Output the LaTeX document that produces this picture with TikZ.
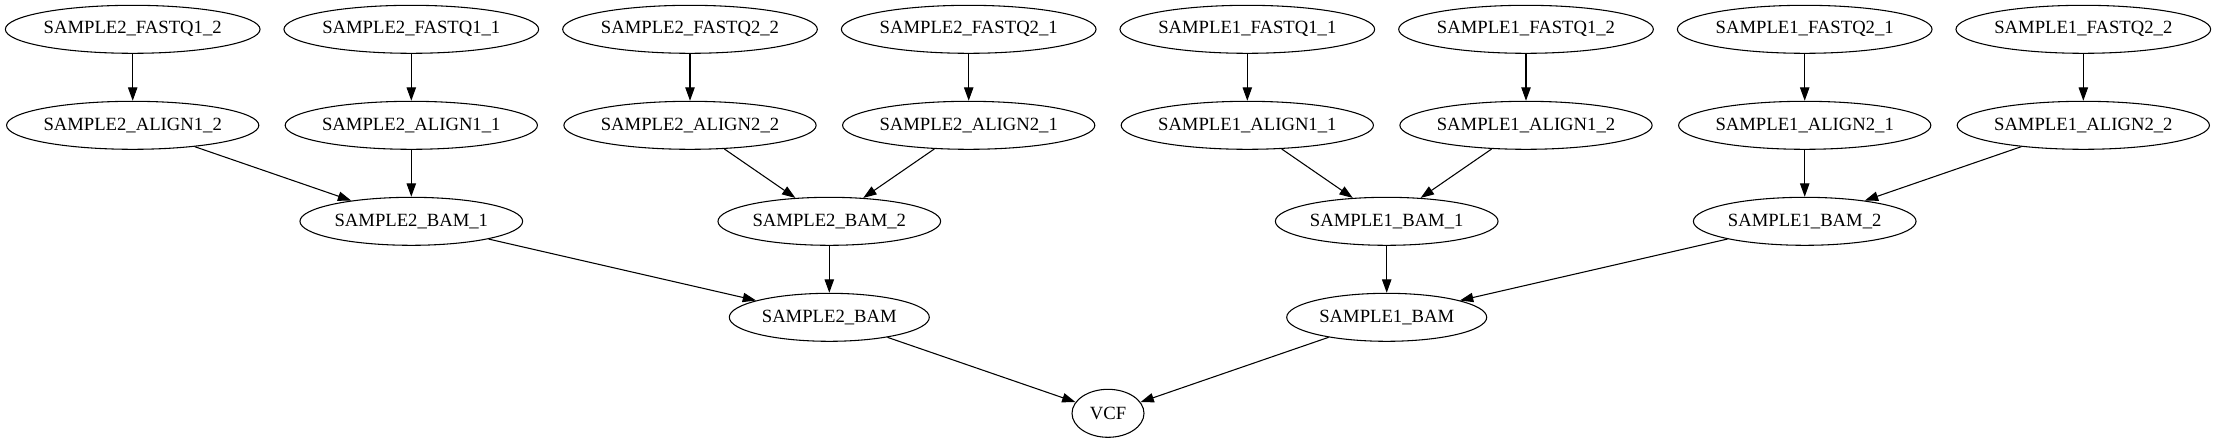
\documentclass[tikz,border=0pt]{standalone}
\usepackage{fontspec}
\setmainfont{Liberation Serif}
\usetikzlibrary{shapes.geometric,arrows.meta}
\begin{document}
\begin{tikzpicture}[x=0.75pt,y=-0.75pt,
  gnode/.style={ellipse,draw,line width=0.8pt,inner sep=0pt,minimum height=36pt,font=\fontsize{14}{16}\selectfont},
  fq/.style={gnode,minimum width=191pt},
  al/.style={gnode,minimum width=189pt},
  bamx/.style={gnode,minimum width=167pt},
  bam/.style={gnode,minimum width=150pt},
  vcf/.style={gnode,minimum width=54pt},
  edge/.style={line width=0.8pt,-{Triangle[length=10pt,width=7pt]}}]
\useasboundingbox (0,0) rectangle (2215,443);
% row 1
\node[fq] (s2f12) at (132.7,29.3) {SAMPLE2\_FASTQ1\_2};
\node[fq] (s2f11) at (411.3,29.3) {SAMPLE2\_FASTQ1\_1};
\node[fq] (s2f22) at (690,29.3) {SAMPLE2\_FASTQ2\_2};
\node[fq] (s2f21) at (968.7,29.3) {SAMPLE2\_FASTQ2\_1};
\node[fq] (s1f11) at (1247.3,29.3) {SAMPLE1\_FASTQ1\_1};
\node[fq] (s1f12) at (1526,29.3) {SAMPLE1\_FASTQ1\_2};
\node[fq] (s1f21) at (1804.7,29.3) {SAMPLE1\_FASTQ2\_1};
\node[fq] (s1f22) at (2083.3,29.3) {SAMPLE1\_FASTQ2\_2};
% row 2
\node[al] (s2a12) at (132.7,125.3) {SAMPLE2\_ALIGN1\_2};
\node[al] (s2a11) at (411.3,125.3) {SAMPLE2\_ALIGN1\_1};
\node[al] (s2a22) at (690,125.3) {SAMPLE2\_ALIGN2\_2};
\node[al] (s2a21) at (968.7,125.3) {SAMPLE2\_ALIGN2\_1};
\node[al] (s1a11) at (1247.3,125.3) {SAMPLE1\_ALIGN1\_1};
\node[al] (s1a12) at (1526,125.3) {SAMPLE1\_ALIGN1\_2};
\node[al] (s1a21) at (1804.7,125.3) {SAMPLE1\_ALIGN2\_1};
\node[al] (s1a22) at (2083.3,125.3) {SAMPLE1\_ALIGN2\_2};
% row 3
\node[bamx] (s2b1) at (411.3,221.3) {SAMPLE2\_BAM\_1};
\node[bamx] (s2b2) at (829.3,221.3) {SAMPLE2\_BAM\_2};
\node[bamx] (s1b1) at (1386.7,221.3) {SAMPLE1\_BAM\_1};
\node[bamx] (s1b2) at (1804.7,221.3) {SAMPLE1\_BAM\_2};
% row 4
\node[bam] (s2b) at (829.3,317.3) {SAMPLE2\_BAM};
\node[bam] (s1b) at (1386.7,317.3) {SAMPLE1\_BAM};
% row 5
\node[vcf] (vcf) at (1108,413.3) {VCF};
% edges
\draw[edge] (s2f12) -- (s2a12);
\draw[edge] (s2f11) -- (s2a11);
\draw[edge] (s2f22) -- (s2a22);
\draw[edge] (s2f21) -- (s2a21);
\draw[edge] (s1f11) -- (s1a11);
\draw[edge] (s1f12) -- (s1a12);
\draw[edge] (s1f21) -- (s1a21);
\draw[edge] (s1f22) -- (s1a22);
\draw[edge] (s2a12) -- (s2b1);
\draw[edge] (s2a11) -- (s2b1);
\draw[edge] (s2a22) -- (s2b2);
\draw[edge] (s2a21) -- (s2b2);
\draw[edge] (s1a11) -- (s1b1);
\draw[edge] (s1a12) -- (s1b1);
\draw[edge] (s1a21) -- (s1b2);
\draw[edge] (s1a22) -- (s1b2);
\draw[edge] (s2b1) -- (s2b);
\draw[edge] (s2b2) -- (s2b);
\draw[edge] (s1b1) -- (s1b);
\draw[edge] (s1b2) -- (s1b);
\draw[edge] (s2b) -- (vcf);
\draw[edge] (s1b) -- (vcf);
\end{tikzpicture}
\end{document}
